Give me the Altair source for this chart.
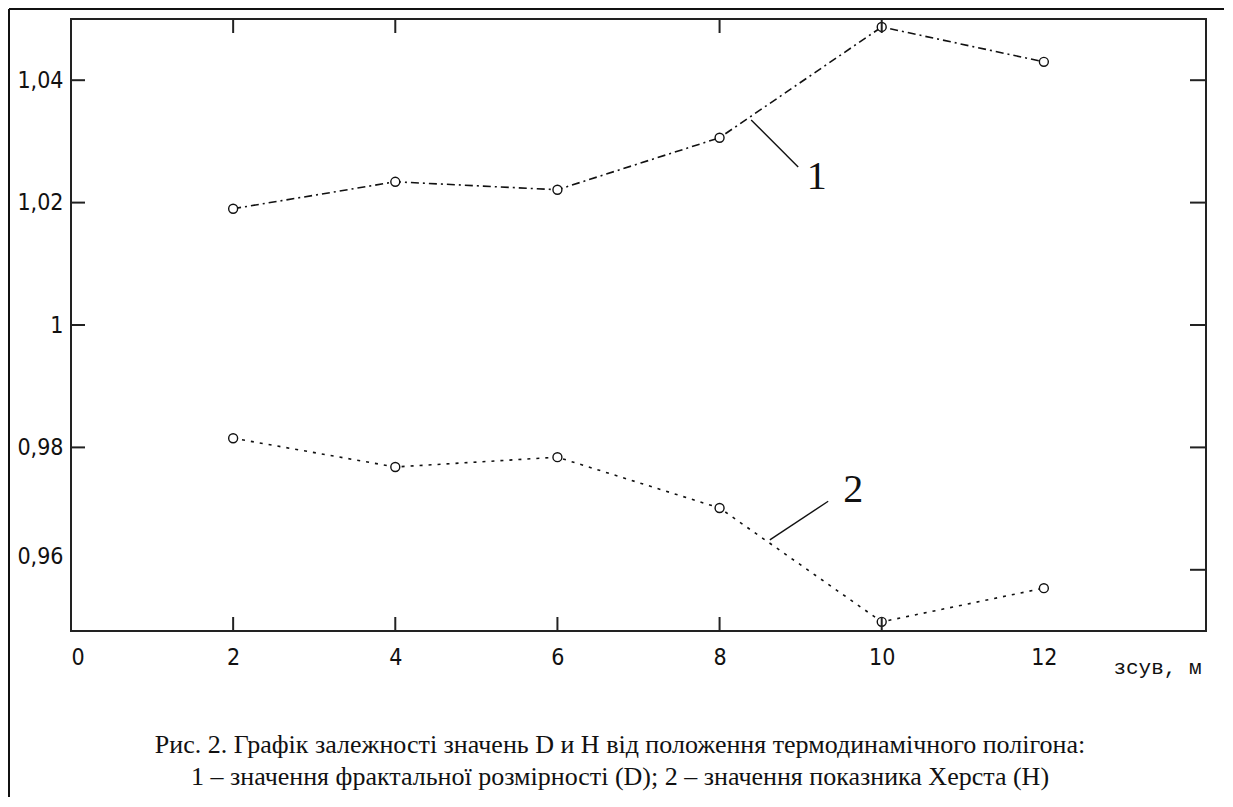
import altair as alt
import pandas as pd

# ---- data ----
shift_m = [2, 4, 6, 8, 10, 12]
fractal_D = [1.0190, 1.0234, 1.0221, 1.0306, 1.0487, 1.0430]
hurst_H = [0.9815, 0.9768, 0.9784, 0.9701, 0.9515, 0.9570]
series_names = ["1", "2"]

x_labels = [0, 2, 4, 6, 8, 10, 12]
y_labels = [0.96, 0.98, 1.0, 1.02, 1.04]
bottom_ticks = [2, 4, 6, 8, 10]
top_ticks = [2, 4, 8, 10]
left_ticks = [0.98, 1.0, 1.02, 1.04]
right_ticks = [0.96, 0.98, 1.0, 1.02, 1.04]

label_text = ["1", "2"]
label_x = [9.20, 9.65]
label_y = [1.0242, 0.9730]
leader_x = [8.39, 8.62]
leader_y = [1.0335, 0.9649]
leader_x2 = [8.97, 9.34]
leader_y2 = [1.0258, 0.9712]

x_title = "зсув, м"
caption_lines = [
    "Рис. 2. Графік залежності значень D и H від положення термодинамічного полігона:",
    "1 – значення фрактальної розмірності (D); 2 – значення показника Херста (H)",
]

# ---- tables ----
df = pd.DataFrame({
    "x": shift_m * 2,
    "y": fractal_D + hurst_H,
    "series": [series_names[0]] * len(shift_m) + [series_names[1]] * len(shift_m),
})
ann = pd.DataFrame({"t": label_text, "x": label_x, "y": label_y})
lead = pd.DataFrame({"x": leader_x, "y": leader_y, "x2": leader_x2, "y2": leader_y2})

W, H = 1135, 612
INK = "#111111"
LABEL_FONT = "DejaVu Sans Condensed, DejaVu Sans, sans-serif"

xs = alt.Scale(domain=[0, 14], nice=False, zero=False)
ys = alt.Scale(domain=[0.95, 1.05], nice=False, zero=False)

x_axis = alt.Axis(values=x_labels, ticks=False, tickSize=0, domain=False, grid=False,
                  labelFont=LABEL_FONT, labelFontSize=23, labelColor=INK,
                  labelBaseline="middle", labelPadding=26,
                  title=x_title, titleFont="Liberation Mono", titleFontSize=21,
                  titleFontWeight="normal", titleColor=INK, titleX=1086, titleY=36,
                  titleAlign="center", titleBaseline="middle")
y_axis = alt.Axis(values=y_labels, ticks=False, tickSize=0, domain=False, grid=False,
                  labelFont=LABEL_FONT, labelFontSize=23, labelColor=INK,
                  labelPadding=8, labelBaseline="middle",
                  labelExpr="replace(format(datum.value, '.2~f'), '.', ',')",
                  labelOffset={"condition": {"test": "datum.value < 0.965", "value": -13}, "value": 0},
                  title=None)


def X(field):
    return alt.X(field, scale=xs, axis=x_axis)


def Y(field):
    return alt.Y(field, scale=ys, axis=y_axis)


dash = alt.StrokeDash("series:N", scale=alt.Scale(domain=series_names, range=[[8, 4, 2, 4], [3, 6]]), legend=None)

lines = alt.Chart(df).mark_line(color=INK, strokeWidth=1.6).encode(
    x=X("x:Q"), y=Y("y:Q"), strokeDash=dash, detail="series:N",
)
points = alt.Chart(df).mark_point(shape="circle", size=80, filled=False, fill="white",
                                  stroke=INK, strokeWidth=1.4, opacity=1).encode(
    x=X("x:Q"), y=Y("y:Q"),
)

leaders = alt.Chart(lead).mark_rule(color=INK, strokeWidth=1.4).encode(
    x=X("x:Q"), y=Y("y:Q"), x2="x2:Q", y2="y2:Q",
)
labels = alt.Chart(ann).mark_text(font="Liberation Serif", fontSize=40, color=INK,
                                  align="center", baseline="middle").encode(
    x=X("x:Q"), y=Y("y:Q"), text="t:N",
)

tick_style = dict(color="#222222", strokeWidth=2)
tb = alt.Chart(pd.DataFrame({"x": bottom_ticks})).mark_rule(**tick_style).encode(
    x=X("x:Q"), y=alt.value(H), y2=alt.value(H - 14))
tt = alt.Chart(pd.DataFrame({"x": top_ticks})).mark_rule(**tick_style).encode(
    x=X("x:Q"), y=alt.value(0), y2=alt.value(14))
tl = alt.Chart(pd.DataFrame({"y": left_ticks})).mark_rule(**tick_style).encode(
    y=Y("y:Q"), x=alt.value(0), x2=alt.value(14))
tr = alt.Chart(pd.DataFrame({"y": right_ticks})).mark_rule(**tick_style).encode(
    y=Y("y:Q"), x=alt.value(W), x2=alt.value(W - 16))

one = alt.Data(values=[{}])
frame_top = alt.Chart(one).mark_rule(color="#111111", strokeWidth=2).encode(
    x=alt.value(-62), x2=alt.value(1160), y=alt.value(-10))
frame_left = alt.Chart(one).mark_rule(color="#111111", strokeWidth=2).encode(
    x=alt.value(-62), y=alt.value(-10), y2=alt.value(800))

cap1 = alt.Chart(one).mark_text(font="Liberation Serif", fontSize=26, color=INK,
                                align="center", baseline="middle", text=caption_lines[0]).encode(
    x=alt.value(549), y=alt.value(726))
cap2 = alt.Chart(one).mark_text(font="Liberation Serif", fontSize=26, color=INK,
                                align="center", baseline="middle", text=caption_lines[1]).encode(
    x=alt.value(549), y=alt.value(758))

chart = alt.layer(
    lines, points, leaders, labels, tb, tt, tl, tr, frame_top, frame_left, cap1, cap2
).properties(
    width=W, height=H,
    background="white",
    autosize=alt.AutoSizeParams(type="none"),
    padding={"left": 63, "top": 11, "right": 18, "bottom": 166},
).configure_view(
    stroke="#222222", strokeWidth=2
)

chart.save("out.html", embed_options={"renderer": "svg", "actions": False})
